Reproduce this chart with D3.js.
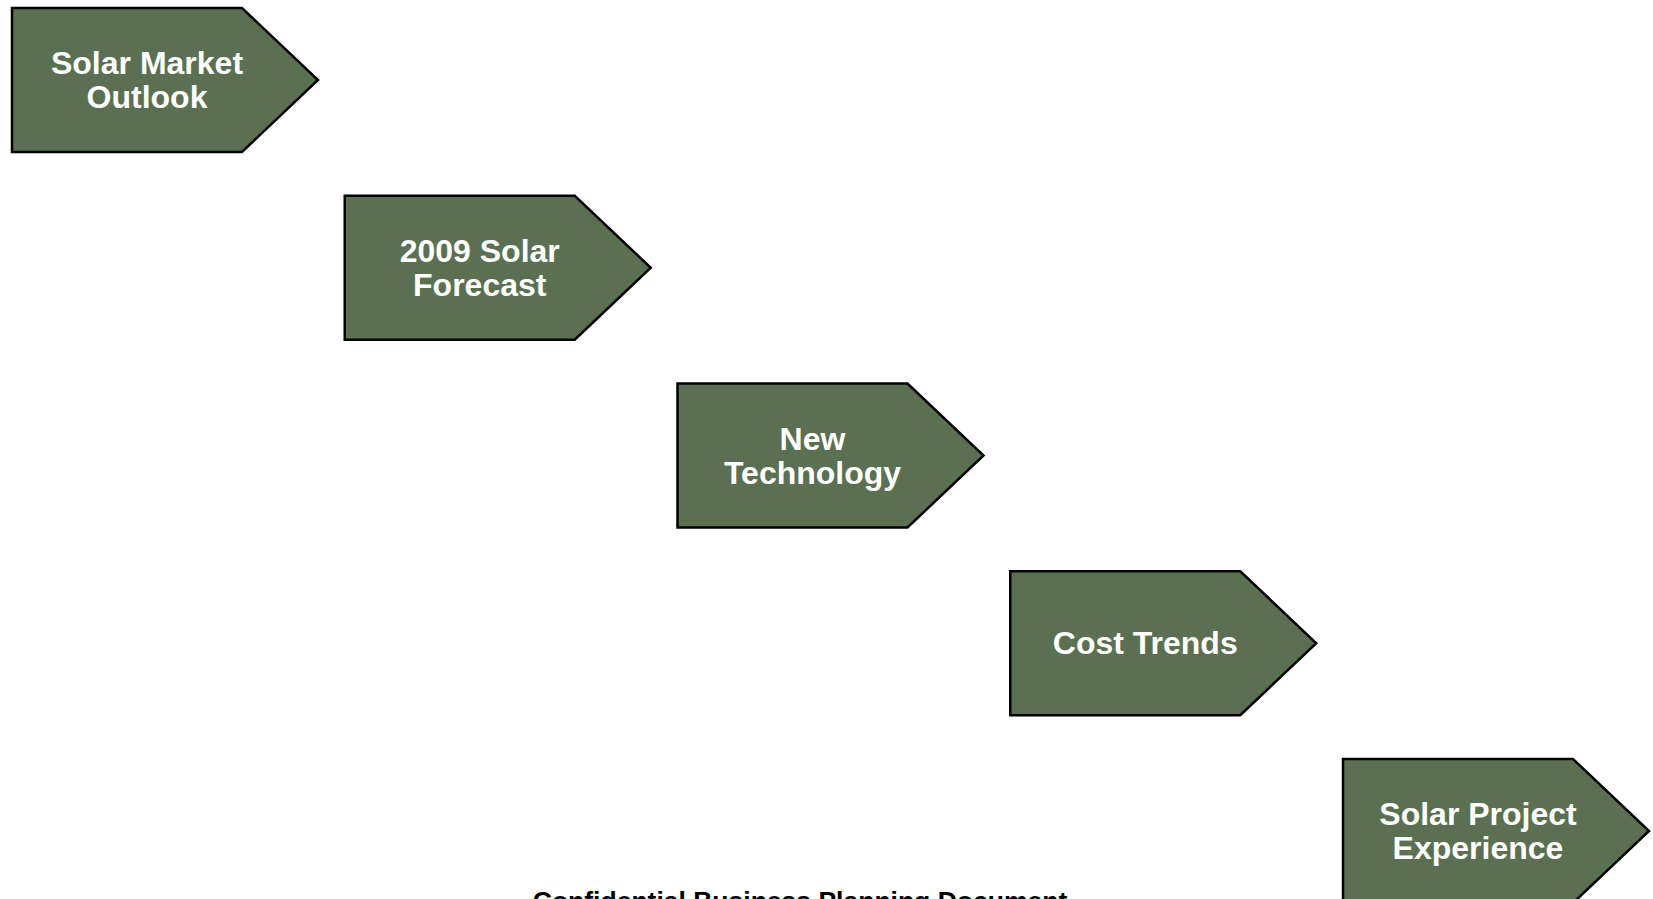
<!DOCTYPE html>
<html>
<head>
<meta charset="utf-8">
<script src="https://cdn.jsdelivr.net/npm/d3@7"></script>
<style>
  html, body { margin: 0; padding: 0; background: #fff; overflow: hidden; }
  svg { display: block; }
</style>
</head>
<body>
<div id="wall"></div>
<script>
// steps of the staircase, top-left to bottom-right
const steps = ["Solar Market\nOutlook", "2009 Solar\nForecast", "New\nTechnology", "Cost Trends", "Solar Project\nExperience"]
const footer = "Confidential Business Planning Document"

const width = 1653
const height = 899
const svg = d3.select("#wall").append("svg")
    .attr("width", width)
    .attr("height", height)
    .attr("viewBox", `0 0 ${width} ${height}`)

// positions
const xScale = d3.scaleLinear().domain([0, steps.length - 1]).range([12, 1343])
const yScale = d3.scaleLinear().domain([0, steps.length - 1]).range([8, 759])

const boxW = 230, tipW = 306, boxH = 144

function pentagon() {
    const p = d3.path()
    p.moveTo(0, 0)
    p.lineTo(boxW, 0)
    p.lineTo(tipW, boxH / 2)
    p.lineTo(boxW, boxH)
    p.lineTo(0, boxH)
    p.closePath()
    return p.toString()
}

const node = svg.selectAll(".node")
    .data(steps)
    .enter().append("g")
    .attr("class", "node")
    .attr("transform", (d, i) => `translate(${xScale(i)}, ${yScale(i)})`)

node.append("path")
    .attr("d", pentagon())
    .attr("fill", "#5b7052")
    .attr("stroke", "#000")
    .attr("stroke-width", 2.5)
    .attr("stroke-linejoin", "miter")

node.each(function(d) {
    const lines = d.split("\n")
    const t = d3.select(this).append("text")
        .attr("text-anchor", "middle")
        .attr("fill", "#fff")
        .attr("font-family", "Liberation Sans, Arial, sans-serif")
        .attr("font-weight", "bold")
        .attr("font-size", 32)
    lines.forEach((line, j) => {
        t.append("tspan")
            .attr("x", 135)
            .attr("y", boxH / 2 + (j - (lines.length - 1) / 2) * 34 + 11)
            .text(line)
    })
})

// footer is clipped by the bottom edge, as in the original slide
svg.append("text")
    .attr("x", 800)
    .attr("y", 910)
    .attr("text-anchor", "middle")
    .attr("font-family", "Liberation Sans, Arial, sans-serif")
    .attr("font-weight", "bold")
    .attr("font-size", 26.5)
    .attr("fill", "#000")
    .text(footer)
</script>
</body>
</html>
